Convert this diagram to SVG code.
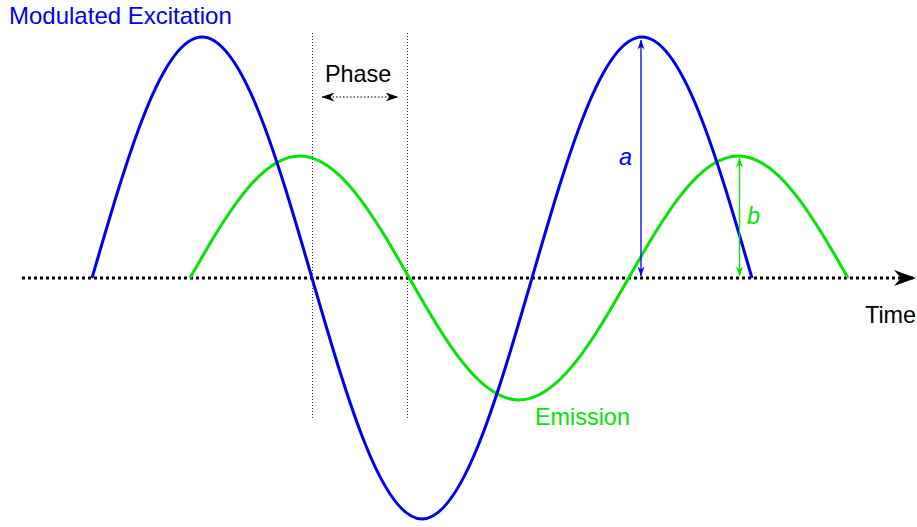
<svg xmlns="http://www.w3.org/2000/svg" width="917" height="527" viewBox="0 0 917 527">
  <defs>
    <style>
      text { font-family: "Liberation Sans", Arial, sans-serif; font-size: 23.4px; }
      .title { font-size: 24px; }
      .blue { fill: #0000f0; }
      .green { fill: #00e600; }
      .black { fill: #000000; }
      .curve { fill: none; stroke-width: 3; stroke-linecap: butt; }
      .guide { stroke: #333333; stroke-width: 1; stroke-dasharray: 1 2; fill: none; }
    </style>
    <marker id="axisHead" markerUnits="userSpaceOnUse" viewBox="0 0 22 16" refX="21" refY="8" markerWidth="22" markerHeight="16" orient="auto">
      <path d="M0,0 L22,8 L0,16 L7,8 Z" fill="#000"/>
    </marker>
    <marker id="phaseHead" markerUnits="userSpaceOnUse" viewBox="0 0 13 9" refX="12.5" refY="4.5" markerWidth="13" markerHeight="9" orient="auto-start-reverse">
      <path d="M0,0 L13,4.5 L0,9 L4,4.5 Z" fill="#000"/>
    </marker>
    <marker id="blueHead" markerUnits="userSpaceOnUse" viewBox="0 0 10 8" refX="9.5" refY="4" markerWidth="10" markerHeight="8" orient="auto-start-reverse">
      <path d="M0,0.5 L10,4 L0,7.5 L3,4 Z" fill="#0000f0"/>
    </marker>
    <marker id="greenHead" markerUnits="userSpaceOnUse" viewBox="0 0 10 8" refX="9.5" refY="4" markerWidth="10" markerHeight="8" orient="auto-start-reverse">
      <path d="M0,0.5 L10,4 L0,7.5 L3,4 Z" fill="#00e600"/>
    </marker>
  </defs>
  <rect width="917" height="527" fill="#ffffff"/>

  <g id="guides">
    <line class="guide" x1="312.5" y1="33" x2="312.5" y2="418"/>
    <line class="guide" x1="407.5" y1="33" x2="407.5" y2="418"/>
  </g>

  <g id="axis">
    <line x1="22" y1="278" x2="915" y2="278" stroke="#000" stroke-width="3" stroke-dasharray="3 3" marker-end="url(#axisHead)"/>
    <text class="black" x="865" y="323">Time</text>
  </g>

  <g id="emission">
    <path class="curve" stroke="#00e600" d="M190,278 C225.76,215.5 259.98,156 299.67,156 C339.36,156 373.58,215.5 409.33,278 C445.09,340.5 479.31,400 519,400 C558.69,400 592.91,340.5 628.67,278 C664.43,215.5 698.65,156 738.33,156 C778.02,156 812.24,215.5 848,278"/>
    <text class="green" x="535" y="425">Emission</text>
  </g>

  <g id="excitation">
    <path class="curve" stroke="#0000f0" d="M92,278 C127.87,154.54 162.19,37 202,37 C241.81,37 276.13,154.54 312,278 C347.87,401.46 382.19,519 422,519 C461.81,519 496.13,401.46 532,278 C567.87,154.54 602.19,37 642,37 C681.81,37 716.13,154.54 752,278"/>
    <text class="blue title" x="9" y="24">Modulated Excitation</text>
  </g>

  <g id="connectors">
    <line x1="322" y1="97" x2="398" y2="97" stroke="#000" stroke-width="1.2" stroke-dasharray="1.5 2" marker-start="url(#phaseHead)" marker-end="url(#phaseHead)"/>
    <line x1="641" y1="40" x2="641" y2="276" stroke="#0000f0" stroke-width="1.3" marker-start="url(#blueHead)" marker-end="url(#blueHead)"/>
    <line x1="739.5" y1="158" x2="739.5" y2="276" stroke="#00e600" stroke-width="1.3" marker-start="url(#greenHead)" marker-end="url(#greenHead)"/>
  </g>

  <g id="labels">
    <text class="black" x="325" y="82">Phase</text>
    <text class="blue" x="619" y="165" font-style="italic">a</text>
    <text class="green" x="747" y="224" font-style="italic">b</text>
  </g>
</svg>
